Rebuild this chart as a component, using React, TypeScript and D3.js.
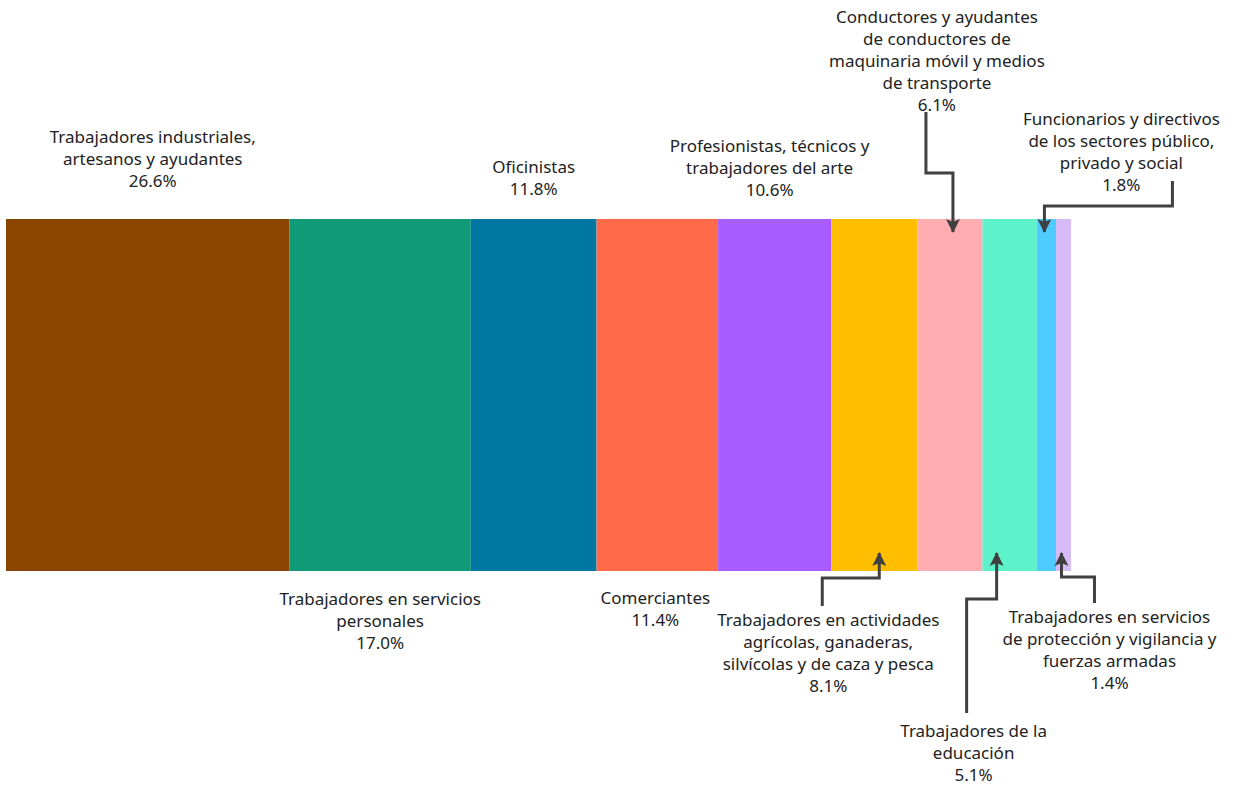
import React from 'react';
import * as d3 from 'd3';

const categories = [
  'Trabajadores industriales, artesanos y ayudantes',
  'Trabajadores en servicios personales',
  'Oficinistas',
  'Comerciantes',
  'Profesionistas, técnicos y trabajadores del arte',
  'Trabajadores en actividades agrícolas, ganaderas, silvícolas y de caza y pesca',
  'Conductores y ayudantes de conductores de maquinaria móvil y medios de transporte',
  'Trabajadores de la educación',
  'Funcionarios y directivos de los sectores público, privado y social',
  'Trabajadores en servicios de protección y vigilancia y fuerzas armadas',
];
const values = [26.6, 17.0, 11.8, 11.4, 10.6, 8.1, 6.1, 5.1, 1.8, 1.4];
const colors = [
  '#8b4500', '#109a77', '#0077a3', '#ff6b4a', '#a95cff',
  '#ffbf00', '#ffadb0', '#5df2ca', '#4ecbff', '#d6bbf8',
];
// label text broken in lines like the original
const labelLines = [
  ['Trabajadores industriales,', 'artesanos y ayudantes'],
  ['Trabajadores en servicios', 'personales'],
  ['Oficinistas'],
  ['Comerciantes'],
  ['Profesionistas, técnicos y', 'trabajadores del arte'],
  ['Trabajadores en actividades', 'agrícolas, ganaderas,', 'silvícolas y de caza y pesca'],
  ['Conductores y ayudantes', 'de conductores de', 'maquinaria móvil y medios', 'de transporte'],
  ['Trabajadores de la', 'educación'],
  ['Funcionarios y directivos', 'de los sectores público,', 'privado y social'],
  ['Trabajadores en servicios', 'de protección y vigilancia y', 'fuerzas armadas'],
];

const W = 1234;
const H = 785;
const barTop = 219;
const barBottom = 571;
const lineH = 22;

// label placement: side, label centre x offset from segment centre, first line y, leader path (relative)
type Lab = { side: 'top' | 'bottom'; dx: number; y0: number; leader?: { start: number; knee: number; tipDx: number; fromDx: number } };
const layout: Lab[] = [
  { side: 'top', dx: 5, y0: 143 },
  { side: 'bottom', dx: 0, y0: 605 },
  { side: 'top', dx: 0, y0: 173 },
  { side: 'bottom', dx: -2, y0: 604 },
  { side: 'top', dx: -5, y0: 152 },
  { side: 'bottom', dx: -46, y0: 626, leader: { start: 606, knee: 578, tipDx: 5, fromDx: -52 } },
  { side: 'top', dx: -13, y0: 23, leader: { start: 112, knee: 173, tipDx: 3, fromDx: -24 } },
  { side: 'bottom', dx: -36, y0: 737, leader: { start: 713, knee: 599, tipDx: -13, fromDx: -43 } },
  { side: 'top', dx: 75, y0: 125, leader: { start: 181, knee: 206, tipDx: -2, fromDx: 126 } },
  { side: 'bottom', dx: 46, y0: 623, leader: { start: 603, knee: 577, tipDx: -2, fromDx: 31 } },
];

export default function App() {
  const x = d3.scaleLinear().domain([0, 100]).range([6, 1072]);
  const ends = d3.cumsum(values);
  const segs = values.map((v, i) => ({
    x0: x(ends[i] - v),
    x1: x(ends[i]),
    color: colors[i],
    name: categories[i],
    v,
  }));

  return (
    <div style={{ position: 'absolute', left: 0, top: 0 }}>
      <svg width={W} height={H} style={{ display: 'block', fontFamily: '"Noto Sans", sans-serif' }}>
        <defs>
          <marker id="arr" viewBox="0 0 14 14" refX="13" refY="7" markerWidth="14" markerHeight="14" markerUnits="userSpaceOnUse" orient="auto">
            <path d="M0,0 L14,7 L0,14 L3,7 Z" fill="#404040" />
          </marker>
        </defs>
        {segs.map((s, i) => (
          <rect key={i} x={s.x0} y={barTop} width={s.x1 - s.x0} height={barBottom - barTop} fill={s.color}>
            <title>{s.name}</title>
          </rect>
        ))}
        {segs.map((s, i) => {
          const l = layout[i];
          const cx = (s.x0 + s.x1) / 2;
          const lines = [...labelLines[i], `${s.v.toFixed(1)}%`];
          let leader = null;
          if (l.leader) {
            const tip = cx + l.leader.tipDx;
            const from = cx + l.leader.fromDx;
            const tipY = l.side === 'top' ? barTop + 13 : barBottom - 18;
            const path = d3.path();
            path.moveTo(from, l.leader.start);
            path.lineTo(from, l.leader.knee);
            path.lineTo(tip, l.leader.knee);
            path.lineTo(tip, tipY);
            leader = (
              <path d={path.toString()} fill="none" stroke="#404040" strokeWidth={3} markerEnd="url(#arr)" />
            );
          }
          return (
            <g key={i}>
              {leader}
              <text textAnchor="middle" fontSize={17} fill="#222">
                {lines.map((t, j) => (
                  <tspan key={j} x={cx + l.dx} y={l.y0 + j * lineH}>{t}</tspan>
                ))}
              </text>
            </g>
          );
        })}
      </svg>
    </div>
  );
}
